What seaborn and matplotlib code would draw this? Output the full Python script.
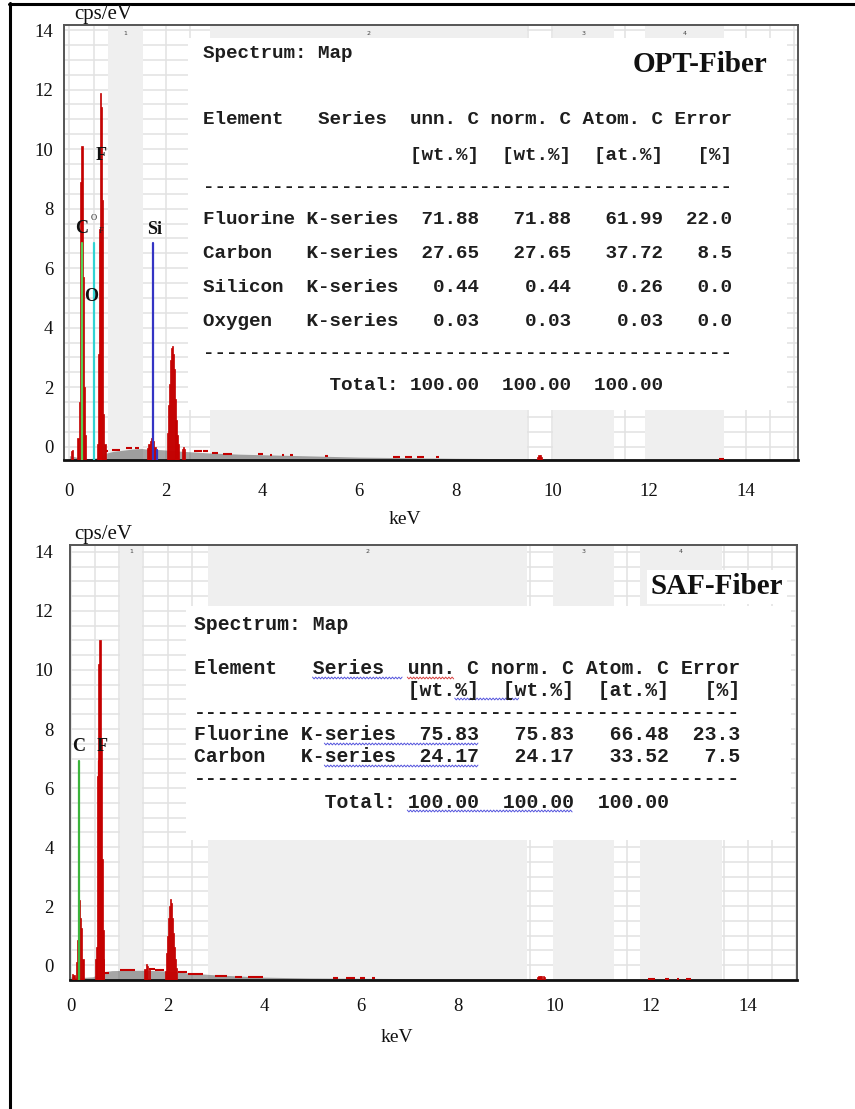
import numpy as np
import matplotlib
matplotlib.use("Agg")
import matplotlib.pyplot as plt
import matplotlib.transforms as mtransforms
from matplotlib.lines import Line2D
from matplotlib.patches import Rectangle
from matplotlib.ticker import MultipleLocator, FormatStrFormatter
import seaborn as sns

sns.set_style("white")
plt.rcParams["font.family"] = ["Liberation Serif", "DejaVu Serif"]

W, H = 855, 1109
RED = "#c40000"
MONO = ["Liberation Mono", "DejaVu Sans Mono"]

# ---------------- OPT-Fiber spectrum ----------------
opt_bands = [(0.80, 1.52), (2.91, 9.47), (10.01, 11.28), (11.92, 13.55)]
opt_cont_kev = [0.00, 0.10, 0.20, 0.40, 0.55, 0.75, 0.90, 1.10, 1.30, 1.50, 1.60,
                1.90, 2.30, 2.90, 3.50, 4.00, 5.00, 6.00, 7.00, 8.00, 9.00,
                10.00, 11.00, 12.00, 13.10, 13.20]
opt_cont_cps = [-0.30, -0.33, -0.38, -0.40, -0.38, -0.22, -0.16, -0.12, -0.08, -0.06, -0.08,
                -0.10, -0.15, -0.21, -0.25, -0.27, -0.31, -0.35, -0.37, -0.39, -0.40,
                -0.41, -0.42, -0.43, -0.44, -0.45]
opt_peak_kev = [0.05, 0.07, 0.18, 0.205, 0.24, 0.26, 0.29, 0.31, 0.34,
                0.59, 0.61, 0.63, 0.65, 0.67, 0.69, 0.71, 0.74,
                1.62, 1.65, 1.68, 1.71, 1.74, 1.77,
                2.03, 2.05, 2.07, 2.09, 2.11, 2.13, 2.15, 2.17, 2.19, 2.21, 2.23, 2.25,
                2.34, 2.36, 2.38,
                9.69, 9.72, 9.75, 9.78]
opt_peak_cps = [-0.15, -0.10, 0.30, 1.50, 8.90, 10.10, 5.70, 2.00, 0.40,
                0.10, 3.10, 7.30, 11.90, 11.40, 8.30, 1.10, 0.10,
                -0.05, 0.08, 0.20, 0.28, 0.20, 0.00,
                0.45, 1.40, 2.10, 2.90, 3.30, 3.40, 3.10, 2.60, 1.60, 0.90, 0.40, 0.10,
                -0.08, 0.00, -0.08,
                -0.33, -0.27, -0.27, -0.33]
opt_noise_start = [0.74, 0.88, 1.18, 1.35, 2.58, 2.76, 2.95, 3.18, 3.90, 4.15, 4.40,
                   4.57, 5.30, 6.70, 6.95, 7.20, 7.60, 13.45]
opt_noise_end = [0.80, 1.05, 1.30, 1.45, 2.74, 2.87, 3.08, 3.37, 4.00, 4.20, 4.45,
                 4.62, 5.35, 6.85, 7.10, 7.35, 7.65, 13.55]
opt_noise_cps = [-0.14, -0.12, -0.06, -0.04, -0.14, -0.16, -0.20, -0.24, -0.25, -0.27, -0.28,
                 -0.29, -0.31, -0.35, -0.35, -0.35, -0.36, -0.42]
opt_line_kev = [0.26, 0.50, 0.66, 1.74, 1.81]
opt_line_top = [6.85, 6.85, 6.85, 6.85, -0.10]
opt_line_color = ["#55d055", "#33d3d3", "#cc0000", "#3434c4", "#3434c4"]

opt_elements = ["Fluorine", "Carbon", "Silicon", "Oxygen"]
opt_series = ["K-series", "K-series", "K-series", "K-series"]
opt_unn = [71.88, 27.65, 0.44, 0.03]
opt_norm = [71.88, 27.65, 0.44, 0.03]
opt_atom = [61.99, 37.72, 0.26, 0.03]
opt_err = [22.0, 8.5, 0.0, 0.0]
opt_total = [100.00, 100.00, 100.00]

# ---------------- SAF-Fiber spectrum ----------------
saf_bands = [(1.02, 1.46), (2.84, 9.44), (9.97, 11.24), (11.77, 13.47)]
saf_cont_kev = [0.00, 0.25, 0.45, 0.70, 0.85, 1.15, 1.55, 1.95, 2.45, 2.95, 3.45,
                3.95, 4.95, 5.95, 7.95, 9.95, 11.95, 13.45]
saf_cont_cps = [-0.40, -0.42, -0.40, -0.22, -0.19, -0.18, -0.18, -0.20, -0.27, -0.33, -0.37,
                -0.41, -0.44, -0.45, -0.47, -0.48, -0.49, -0.50]
saf_peak_kev = [0.03, 0.06, 0.12, 0.14, 0.16, 0.18, 0.20, 0.22, 0.25,
                0.52, 0.54, 0.56, 0.58, 0.60, 0.62, 0.64, 0.66, 0.68,
                1.53, 1.56, 1.59, 1.62,
                1.96, 1.98, 2.00, 2.02, 2.04, 2.06, 2.08, 2.10, 2.12, 2.14, 2.16, 2.19,
                9.65, 9.68, 9.71, 9.74, 9.77, 9.80]
saf_peak_cps = [-0.30, -0.35, 0.10, 0.85, 2.80, 2.20, 1.60, 1.25, 0.20,
                0.20, 0.60, 6.40, 10.20, 11.00, 7.70, 3.60, 1.20, 0.20,
                -0.15, 0.05, -0.02, -0.15,
                -0.20, 0.40, 1.00, 1.60, 2.00, 2.25, 2.10, 1.60, 1.10, 0.60, 0.20, -0.10,
                -0.40, -0.38, -0.38, -0.38, -0.38, -0.40]
saf_noise_start = [0.66, 1.02, 1.62, 1.74, 2.22, 2.43, 2.98, 3.40, 3.67, 5.43, 5.68,
                   5.98, 6.23, 11.93, 12.28, 12.53, 12.73]
saf_noise_end = [0.78, 1.33, 1.74, 1.93, 2.40, 2.73, 3.23, 3.53, 3.98, 5.53, 5.88,
                 6.08, 6.28, 12.08, 12.38, 12.58, 12.83]
saf_noise_cps = [-0.26, -0.16, -0.15, -0.18, -0.25, -0.31, -0.36, -0.39, -0.42, -0.43, -0.43,
                 -0.43, -0.44, -0.47, -0.47, -0.47, -0.47]
saf_line_kev = [0.17, 0.59]
saf_line_top = [6.90, 6.90]
saf_line_color = ["#3cb43c", "#cc0000"]

saf_elements = ["Fluorine", "Carbon"]
saf_series = ["K-series", "K-series"]
saf_unn = [75.83, 24.17]
saf_norm = [75.83, 24.17]
saf_atom = [66.48, 33.52]
saf_err = [23.3, 7.5]
saf_total = [100.00, 100.00, 100.00]

band_labels = ["1", "2", "3", "4"]

fig = plt.figure(figsize=(W / 100, H / 100), dpi=100)
fig.patch.set_facecolor("white")


def make_axes(left, right, top, bottom):
    return fig.add_axes([left / W, 1 - bottom / H, (right - left) / W, (bottom - top) / H])


def draw_panel(ax, xlim, ylim, bands, band_label_y, cont_kev, cont_cps, peak_kev, peak_cps,
               n_start, n_end, n_cps, line_kev, line_top, line_color, box, pad_x, pad_y):
    floor = ylim[0]
    ax.set_xlim(*xlim)
    ax.set_ylim(*ylim)
    ax.set_axisbelow(True)
    ax.xaxis.set_major_locator(MultipleLocator(2))
    ax.xaxis.set_minor_locator(MultipleLocator(0.5))
    ax.yaxis.set_major_locator(MultipleLocator(2))
    ax.yaxis.set_minor_locator(MultipleLocator(0.5))
    ax.xaxis.set_major_formatter(FormatStrFormatter("%d"))
    ax.yaxis.set_major_formatter(FormatStrFormatter("%d"))
    ax.grid(True, which="both", color="#e2e2e2", lw=1.1)

    trans = mtransforms.blended_transform_factory(ax.transData, ax.transAxes)
    for (a, b), lab in zip(bands, band_labels):
        ax.axvspan(a, b, color="#efefef", lw=0, zorder=0.8)
        ax.text((a + b) / 2, band_label_y, lab, transform=trans, fontsize=4.5,
                ha="center", va="center", color="#444444", family=["DejaVu Sans"], zorder=1.5)

    # white panel holding the quantification table
    ax.add_patch(Rectangle((box[0], box[2]), box[1] - box[0], box[3] - box[2],
                           facecolor="white", edgecolor="none", zorder=1))

    ax.fill_between(cont_kev, floor, cont_cps, color="#555555", alpha=0.52, lw=0, zorder=2)
    ax.bar(peak_kev, np.array(peak_cps) - floor, bottom=floor, width=0.027,
           color=RED, edgecolor=RED, lw=0.5, zorder=3)
    ax.hlines(n_cps, n_start, n_end, color=RED, lw=1.5, zorder=3)

    for e, top, c in zip(line_kev, line_top, line_color):
        sns.lineplot(x=[e, e], y=[floor, top], color=c, lw=1.6, ax=ax,
                     estimator=None, sort=False, zorder=4)

    ax.set_xlabel("")
    ax.set_ylabel("")
    ax.tick_params(axis="both", which="major", direction="out", length=5.8, width=1.2,
                   color="#333333", labelsize=13.5, labelcolor="#111111")
    ax.tick_params(axis="both", which="minor", direction="out", length=3.6, width=1.0,
                   color="#333333")
    ax.tick_params(axis="x", which="major", pad=pad_x)
    ax.tick_params(axis="y", which="major", pad=pad_y)
    for side in ["top", "right", "left"]:
        ax.spines[side].set_color("#555555")
        ax.spines[side].set_linewidth(1.4)
    ax.spines["bottom"].set_color("#111111")
    ax.spines["bottom"].set_linewidth(2.0)


ax1 = make_axes(64, 798, 24.5, 460)
draw_panel(ax1, (-0.112, 15.085), (-0.447, 14.187), opt_bands, 0.980,
           opt_cont_kev, opt_cont_cps, opt_peak_kev, opt_peak_cps,
           opt_noise_start, opt_noise_end, opt_noise_cps,
           opt_line_kev, opt_line_top, opt_line_color,
           (2.46, 14.86, 1.23, 13.73), 10.5, 2.0)

ax2 = make_axes(70, 797, 545, 980)
draw_panel(ax2, (-0.02, 15.02), (-0.508, 14.237), saf_bands, 0.986,
           saf_cont_kev, saf_cont_cps, saf_peak_kev, saf_peak_cps,
           saf_noise_start, saf_noise_end, saf_noise_cps,
           saf_line_kev, saf_line_top, saf_line_color,
           (2.38, 14.9, 4.24, 12.17), 7.0, 6.0)

# element labels
bold = dict(fontsize=13, weight="bold", ha="center", va="center", color="#111111", zorder=6)
ax1.text(0.26, 7.34, "C", **bold)
ax1.text(0.51, 7.70, "O", fontsize=6, ha="center", va="center", color="#222222", zorder=6)
ax1.text(0.66, 7.25, "F", fontsize=6, ha="center", va="center", color="#222222", zorder=6)
ax1.text(0.65, 9.77, "F", **bold)
ax1.text(0.44, 5.06, "O", **bold)
ax1.text(1.77, 7.30, "Si", **bold)
ax2.text(0.15, 7.39, "C", **bold)
ax2.text(0.64, 7.39, "F", **bold)


def px(x, y):
    return x / W, 1 - y / H


# axis titles
for (x, y), s, size in [((103, 15), "cps/eV", 15), ((405, 520), "keV", 14),
                        ((103, 535), "cps/eV", 15), ((397, 1037), "keV", 14)]:
    fig.text(*px(x, y), s, fontsize=size, ha="center", va="center", color="#111111")

fig.text(*px(767, 64), "OPT-Fiber", fontsize=21, weight="bold", ha="right", va="center",
         color="#111111")
fig.text(*px(783, 587), "SAF-Fiber", fontsize=21, weight="bold", ha="right", va="center",
         color="#111111", bbox=dict(facecolor="white", edgecolor="none", pad=2.5))


def table_lines(elements, series, unn, norm, atom, err, total):
    head = "Element   Series  unn. C norm. C Atom. C Error"
    units = " " * 18 + "[wt.%]  [wt.%]  [at.%]   [%]"
    dash = "-" * 46
    body = [f"{n:<9}{s:<8}{a:>7.2f}{b:>8.2f}{c:>8.2f}{d:>6.1f}"
            for n, s, a, b, c, d in zip(elements, series, unn, norm, atom, err)]
    tot = f"{'Total:':>17}{total[0]:>7.2f}{total[1]:>8.2f}{total[2]:>8.2f}"
    return ["Spectrum: Map", head, units, dash] + body + [dash, tot]


def draw_table(lines, x0, ys, size):
    for s, y in zip(lines, ys):
        fig.text(*px(x0, y + 5.5), s, family=MONO, weight="bold", fontsize=size,
                 ha="left", va="baseline", color="#1e1e1e")


opt_rows_y = [52, 119, 155, 186, 218, 252, 286, 320, 352, 385]
saf_rows_y = [624, 669, 690, 712, 735, 757, 779, 802]
draw_table(table_lines(opt_elements, opt_series, opt_unn, opt_norm, opt_atom, opt_err, opt_total),
           203, opt_rows_y, 13.9)
draw_table(table_lines(saf_elements, saf_series, saf_unn, saf_norm, saf_atom, saf_err, saf_total),
           194, saf_rows_y, 14.2)


# proofing squiggles under parts of the SAF table
def squiggle(c0, c1, y, color, x0=194, cw=11.85):
    xs = np.arange(x0 + c0 * cw, x0 + c1 * cw + 0.1, 1.6)
    ys = y + np.where(np.arange(len(xs)) % 2 == 0, -0.9, 0.9)
    fig.add_artist(Line2D(xs / W, 1 - ys / H, transform=fig.transFigure, color=color, lw=0.7))


blue, red = "#5555dd", "#d84040"
squiggle(10, 17.6, 669 + 9, blue)
squiggle(18, 22, 669 + 9, red)
squiggle(22, 27.5, 690 + 9, blue)
squiggle(11, 24, 735 + 9, blue)
squiggle(11, 24, 757 + 9, blue)
squiggle(18, 32, 802 + 9, blue)

# page frame
fig.add_artist(Line2D([10 / W, 10 / W], [1 - 3 / H, 0], transform=fig.transFigure,
                      color="black", lw=2.2))
fig.add_artist(Line2D([8.5 / W, 1], [1 - 4 / H, 1 - 4 / H], transform=fig.transFigure,
                      color="black", lw=2.2))

fig.savefig("out.png", dpi=100, facecolor="white")
